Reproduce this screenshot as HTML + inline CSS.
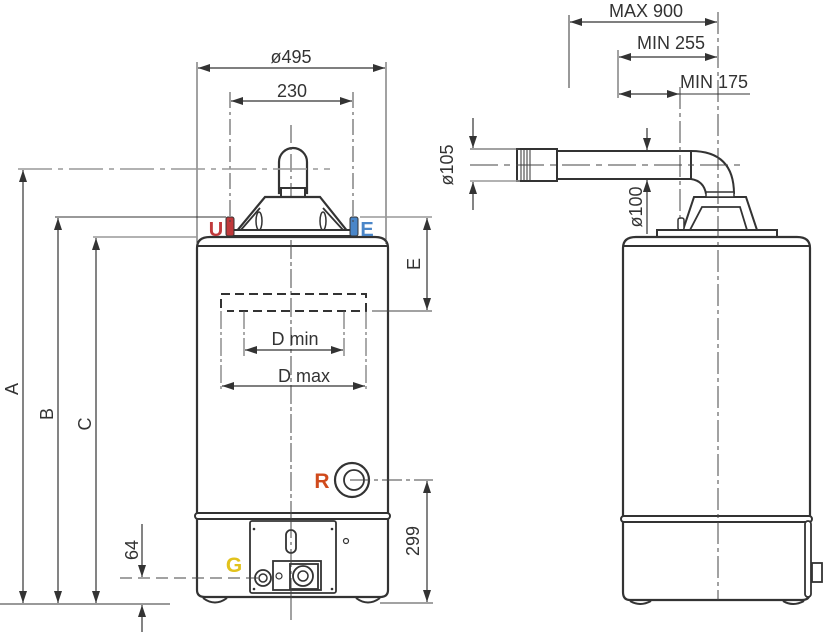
<!DOCTYPE html>
<html><head><meta charset="utf-8"><style>
html,body{margin:0;padding:0;background:#fff;}
svg{display:block;}
text{font-family:"Liberation Sans",sans-serif;fill:#333;}
</style></head><body>
<svg width="826" height="632" viewBox="0 0 826 632" xmlns="http://www.w3.org/2000/svg">
<defs>
<marker id="a" viewBox="0 0 12 10" refX="12" refY="5" markerWidth="12" markerHeight="10" orient="auto-start-reverse" markerUnits="userSpaceOnUse"><path d="M0,1 L12,5 L0,9 z" fill="#333"/></marker>
</defs>
<g fill="none" stroke-linecap="butt">
<line x1="291" y1="125" x2="291" y2="620" stroke="#444" stroke-width="1" stroke-dasharray="18,4,3,4"/>
<path d="M279,193 V162 A14,14 0 0 1 307,162 V193 Z" stroke="#333" stroke-width="2.2" fill="#fff"/>
<rect x="281" y="188" width="24" height="9" stroke="#333" stroke-width="2" fill="#fff"/>
<line x1="291" y1="125" x2="291" y2="240" stroke="#444" stroke-width="1" stroke-dasharray="18,4,3,4"/>
<path d="M265,197 H320 L348,232 H236 Z" stroke="#333" stroke-width="2.2" fill="#fff"/>
<path d="M260,208 L240,231 M323,208 L344,231" stroke="#333" stroke-width="1.8"/>
<ellipse cx="259" cy="221" rx="3" ry="9" stroke="#333" stroke-width="1.5"/>
<ellipse cx="323" cy="221" rx="3" ry="9" stroke="#333" stroke-width="1.5"/>
<rect x="233" y="230" width="120" height="6" stroke="#333" stroke-width="2" fill="#fff"/>
<rect x="226" y="217" width="8" height="19" rx="2" fill="#c0393b" stroke="#333" stroke-width="1"/>
<rect x="350" y="217" width="8" height="19" rx="2" fill="#4a86c8" stroke="#333" stroke-width="1"/>
<path d="M197,248 Q197,237 210,237 H375 Q388,237 388,248 V590 Q388,597 380,597 H205 Q197,597 197,590 Z" stroke="#333" stroke-width="2.2" fill="none"/>
<line x1="197" y1="246" x2="388" y2="246" stroke="#333" stroke-width="2"/>
<rect x="195" y="513" width="195" height="6" rx="3" stroke="#333" stroke-width="2" fill="#fff"/>
<path d="M203,598 Q215,607 227,598 M356,598 Q368,607 380,598" stroke="#333" stroke-width="2"/>
<line x1="291" y1="240" x2="291" y2="620" stroke="#444" stroke-width="1" stroke-dasharray="18,4,3,4"/>
<path d="M221,308 V294 H366 V311 H227" stroke="#333" stroke-width="2" stroke-dasharray="9,5"/>
<line x1="244" y1="311" x2="244" y2="356" stroke="#555" stroke-width="1" stroke-dasharray="18,3,3,3"/>
<line x1="344" y1="311" x2="344" y2="356" stroke="#555" stroke-width="1" stroke-dasharray="18,3,3,3"/>
<line x1="221" y1="311" x2="221" y2="390" stroke="#555" stroke-width="1" stroke-dasharray="18,3,3,3"/>
<line x1="366" y1="311" x2="366" y2="390" stroke="#555" stroke-width="1" stroke-dasharray="18,3,3,3"/>
<line x1="245" y1="350" x2="343" y2="350" stroke="#333" stroke-width="1.2" marker-start="url(#a)" marker-end="url(#a)"/>
<line x1="222" y1="386" x2="365" y2="386" stroke="#333" stroke-width="1.2" marker-start="url(#a)" marker-end="url(#a)"/>
<circle cx="352" cy="480" r="17" stroke="#333" stroke-width="2.2" fill="#fff"/>
<circle cx="354" cy="480" r="10" stroke="#333" stroke-width="1.8"/>
<line x1="350" y1="480" x2="433" y2="480" stroke="#444" stroke-width="1" stroke-dasharray="20,4,4,4"/>
<rect x="250" y="521" width="86" height="72" rx="2" stroke="#333" stroke-width="1.8" fill="#fff"/>
<circle cx="254" cy="529" r="1.3" fill="#333"/><circle cx="332" cy="529" r="1.3" fill="#333"/>
<circle cx="254" cy="589" r="1.3" fill="#333"/><circle cx="332" cy="589" r="1.3" fill="#333"/>
<rect x="286" y="530" width="10" height="23" rx="5" stroke="#333" stroke-width="1.8"/>
<circle cx="346" cy="541" r="2.5" stroke="#333" stroke-width="1.2"/>
<rect x="273" y="561" width="48" height="29" stroke="#333" stroke-width="1.8"/>
<rect x="290" y="564" width="28" height="25" stroke="#333" stroke-width="1.8"/>
<circle cx="303" cy="576" r="10" stroke="#333" stroke-width="1.8"/>
<circle cx="303" cy="576" r="5" stroke="#333" stroke-width="1.5"/>
<circle cx="279" cy="576" r="3" stroke="#333" stroke-width="1.2"/>
<circle cx="263" cy="578" r="8" stroke="#333" stroke-width="1.8" fill="#fff"/>
<circle cx="263" cy="578" r="4" stroke="#333" stroke-width="1.5"/>
<line x1="120" y1="578" x2="260" y2="578" stroke="#444" stroke-width="1" stroke-dasharray="12,6"/>
<line x1="291" y1="520" x2="291" y2="620" stroke="#444" stroke-width="1" stroke-dasharray="18,4,3,4"/>
<line x1="197" y1="62" x2="197" y2="244" stroke="#444" stroke-width="1"/>
<line x1="386" y1="62" x2="386" y2="244" stroke="#444" stroke-width="1"/>
<line x1="198" y1="68" x2="385" y2="68" stroke="#333" stroke-width="1.2" marker-start="url(#a)" marker-end="url(#a)"/>
<line x1="230" y1="92" x2="230" y2="222" stroke="#444" stroke-width="1" stroke-dasharray="16,4,3,4"/>
<line x1="353" y1="92" x2="353" y2="222" stroke="#444" stroke-width="1" stroke-dasharray="16,4,3,4"/>
<line x1="231" y1="101" x2="352" y2="101" stroke="#333" stroke-width="1.2" marker-start="url(#a)" marker-end="url(#a)"/>
<line x1="18" y1="169" x2="330" y2="169" stroke="#999" stroke-width="1.5" stroke-dasharray="34,6,5,6"/>
<line x1="23" y1="170" x2="23" y2="603" stroke="#333" stroke-width="1.2" marker-start="url(#a)" marker-end="url(#a)"/>
<line x1="55" y1="217" x2="226" y2="217" stroke="#333" stroke-width="1"/>
<line x1="58" y1="218" x2="58" y2="603" stroke="#333" stroke-width="1.2" marker-start="url(#a)" marker-end="url(#a)"/>
<line x1="93" y1="237" x2="197" y2="237" stroke="#999" stroke-width="1.5"/>
<line x1="96" y1="238" x2="96" y2="603" stroke="#333" stroke-width="1.2" marker-start="url(#a)" marker-end="url(#a)"/>
<line x1="0" y1="604" x2="170" y2="604" stroke="#333" stroke-width="1"/>
<line x1="142" y1="524" x2="142" y2="577" stroke="#333" stroke-width="1.2" marker-end="url(#a)"/>
<line x1="142" y1="632" x2="142" y2="605" stroke="#333" stroke-width="1.2" marker-end="url(#a)"/>
<line x1="360" y1="217" x2="432" y2="217" stroke="#999" stroke-width="1.5"/>
<line x1="372" y1="311" x2="432" y2="311" stroke="#444" stroke-width="1"/>
<line x1="427" y1="218" x2="427" y2="310" stroke="#333" stroke-width="1.2" marker-start="url(#a)" marker-end="url(#a)"/>
<line x1="380" y1="603" x2="433" y2="603" stroke="#444" stroke-width="1"/>
<line x1="427" y1="481" x2="427" y2="602" stroke="#333" stroke-width="1.2" marker-start="url(#a)" marker-end="url(#a)"/>
<path d="M694,197 H746 L757,230 H683 Z" stroke="#333" stroke-width="2" fill="#fff"/>
<path d="M702,207 H740 L747,230 H690 Z" stroke="#333" stroke-width="1.8"/>
<rect x="678" y="218" width="6" height="12" rx="2" stroke="#333" stroke-width="1.5" fill="#fff"/>
<rect x="657" y="230" width="120" height="7" stroke="#333" stroke-width="2" fill="#fff"/>
<rect x="557" y="151" width="134" height="28" stroke="#333" stroke-width="2" fill="#fff"/>
<rect x="517" y="149" width="40" height="32" stroke="#333" stroke-width="2" fill="#fff"/>
<path d="M521,150 V180 M524,150 V180 M527,150 V180 M530,150 V180" stroke="#333" stroke-width="1"/>
<path d="M691,151 Q734,151 734,194 M691,179 Q704,181 706,194" stroke="#333" stroke-width="2"/>
<rect x="706" y="192" width="28" height="5" stroke="#333" stroke-width="1.5" fill="#fff"/>
<line x1="470" y1="165" x2="740" y2="165" stroke="#444" stroke-width="1" stroke-dasharray="28,6,6,6"/>
<path d="M623,248 Q623,237 636,237 H797 Q810,237 810,248 V592 Q810,600 802,600 H630 Q623,600 623,592 Z" stroke="#333" stroke-width="2.2"/>
<line x1="623" y1="246" x2="810" y2="246" stroke="#333" stroke-width="2"/>
<rect x="621" y="516" width="191" height="6" rx="3" stroke="#333" stroke-width="2" fill="#fff"/>
<rect x="805" y="521" width="6" height="76" rx="3" stroke="#333" stroke-width="1.8" fill="#fff"/>
<rect x="812" y="563" width="10" height="19" stroke="#333" stroke-width="1.8"/>
<path d="M630,601 Q640,607 651,601 M783,601 Q793,607 804,601" stroke="#333" stroke-width="2"/>
<line x1="718" y1="12" x2="718" y2="600" stroke="#444" stroke-width="1" stroke-dasharray="22,4,4,4"/>
<line x1="680" y1="87" x2="680" y2="222" stroke="#444" stroke-width="1" stroke-dasharray="22,4,4,4"/>
<line x1="569" y1="15" x2="569" y2="88" stroke="#333" stroke-width="1"/>
<line x1="570" y1="22" x2="717" y2="22" stroke="#333" stroke-width="1.2" marker-start="url(#a)" marker-end="url(#a)"/>
<line x1="618" y1="50" x2="618" y2="98" stroke="#444" stroke-width="1"/>
<line x1="619" y1="57" x2="717" y2="57" stroke="#333" stroke-width="1.2" marker-start="url(#a)" marker-end="url(#a)"/>
<line x1="619" y1="94" x2="679" y2="94" stroke="#333" stroke-width="1.2" marker-start="url(#a)" marker-end="url(#a)"/>
<line x1="679" y1="94" x2="750" y2="94" stroke="#333" stroke-width="1"/>
<line x1="470" y1="149" x2="520" y2="149" stroke="#444" stroke-width="1"/>
<line x1="470" y1="181" x2="520" y2="181" stroke="#999" stroke-width="1.5"/>
<line x1="473" y1="118" x2="473" y2="148" stroke="#333" stroke-width="1.2" marker-end="url(#a)"/>
<line x1="473" y1="210" x2="473" y2="182" stroke="#333" stroke-width="1.2" marker-end="url(#a)"/>
<line x1="647" y1="128" x2="647" y2="150" stroke="#333" stroke-width="1.2" marker-end="url(#a)"/>
<line x1="647" y1="234" x2="647" y2="180" stroke="#333" stroke-width="1.2" marker-end="url(#a)"/>
</g>
<text x="291" y="63" font-size="18" text-anchor="middle">ø495</text>
<text x="292" y="97" font-size="18" text-anchor="middle">230</text>
<text x="295" y="345" font-size="18" text-anchor="middle">D min</text>
<text x="304" y="382" font-size="18" text-anchor="middle">D max</text>
<text x="216" y="236" font-size="20" font-weight="bold" style="fill:#c0393b" text-anchor="middle">U</text>
<text x="367" y="236" font-size="20" font-weight="bold" style="fill:#4a86c8" text-anchor="middle">E</text>
<text x="322" y="488" font-size="21" font-weight="bold" style="fill:#d04a1c" text-anchor="middle">R</text>
<text x="234" y="572" font-size="21" font-weight="bold" style="fill:#e2c21c" text-anchor="middle">G</text>
<text transform="translate(18,389) rotate(-90)" font-size="18" text-anchor="middle">A</text>
<text transform="translate(53,414) rotate(-90)" font-size="18" text-anchor="middle">B</text>
<text transform="translate(91,424) rotate(-90)" font-size="18" text-anchor="middle">C</text>
<text transform="translate(138,550) rotate(-90)" font-size="18" text-anchor="middle">64</text>
<text transform="translate(420,264) rotate(-90)" font-size="18" text-anchor="middle">E</text>
<text transform="translate(419,541) rotate(-90)" font-size="18" text-anchor="middle">299</text>
<text x="646" y="17" font-size="18" text-anchor="middle">MAX 900</text>
<text x="671" y="49" font-size="18" text-anchor="middle">MIN 255</text>
<text x="714" y="88" font-size="18" text-anchor="middle">MIN 175</text>
<text transform="translate(453,165) rotate(-90)" font-size="18" text-anchor="middle">ø105</text>
<text transform="translate(642,207) rotate(-90)" font-size="18" text-anchor="middle">ø100</text>
</svg>
</body></html>
